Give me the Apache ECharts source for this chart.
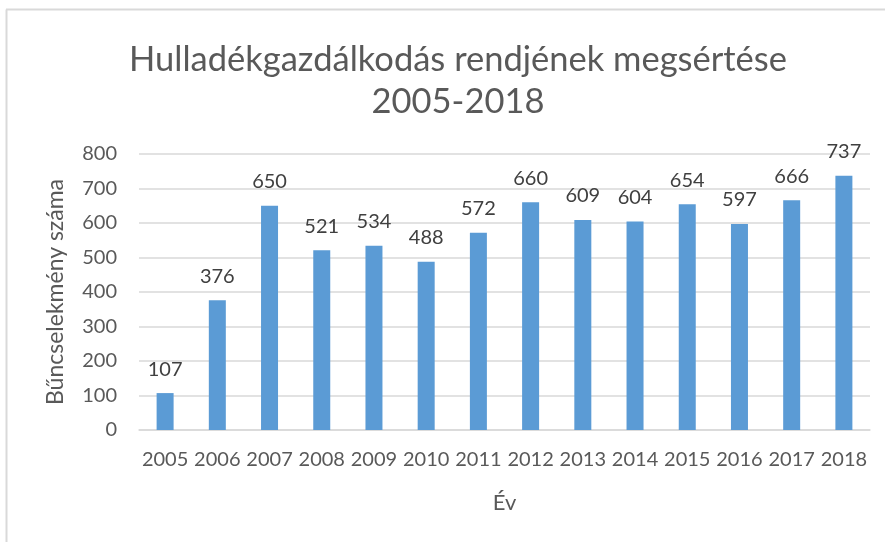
<!DOCTYPE html>
<html lang="hu">
<head>
	<meta charset="UTF-8">
	<title>Hulladékgazdálkodás rendjének megsértése 2005-2018</title>
	<script src="https://cdn.jsdelivr.net/npm/echarts@6/dist/echarts.min.js"></script>
	<style>
		html, body { margin: 0; padding: 0; background: #fff; }
	</style>
</head>
<body>
	<div id="main" style="width: 885px;height:542px;"></div>
	<script type="text/javascript">
		// évek és bűncselekmények száma
		var years = ['2005', '2006', '2007', '2008', '2009', '2010', '2011',
			'2012', '2013', '2014', '2015', '2016', '2017', '2018'];
		var counts = [107, 376, 650, 521, 534, 488, 572, 660, 609, 604, 654, 597, 666, 737];

		var font = 'Lato, "Open Sans", sans-serif';
		var txt = '#595959';

		var myChart = echarts.init(document.getElementById('main'));

		var option = {
			animation: false,
			backgroundColor: '#fff',
			title: {
				text: 'Hulladékgazdálkodás rendjének megsértése\n2005-2018',
				left: 453,
				textAlign: 'center',
				top: 34,
				textStyle: {
					fontFamily: font,
					fontWeight: 'normal',
					fontSize: 34.5,
					lineHeight: 42,
					color: txt
				}
			},
			// keret bal és felső vonala
			graphic: [
				{ type: 'line', shape: { x1: 6.5, y1: 9.5, x2: 6.5, y2: 542 }, style: { stroke: '#d9d9d9', lineWidth: 2 } },
				{ type: 'line', shape: { x1: 6, y1: 9.5, x2: 885, y2: 9.5 }, style: { stroke: '#d9d9d9', lineWidth: 2 } }
			],
			grid: {
				left: 139,
				right: 15,
				top: 154,
				bottom: 112,
				containLabel: false
			},
			xAxis: {
				type: 'category',
				data: years,
				name: 'Év',
				nameLocation: 'middle',
				nameGap: 62,
				nameTextStyle: { fontFamily: font, fontSize: 22, color: txt },
				axisLine: { lineStyle: { color: '#d9d9d9', width: 1.5 } },
				axisTick: { show: false },
				axisLabel: { fontFamily: font, fontSize: 20, color: txt, margin: 20, interval: 0 }
			},
			yAxis: {
				type: 'value',
				min: 0,
				max: 800,
				interval: 100,
				name: 'Bűncselekmény száma',
				nameLocation: 'middle',
				nameGap: 72,
				nameTextStyle: { fontFamily: font, fontSize: 23, color: txt },
				axisLine: { show: false },
				axisTick: { show: false },
				axisLabel: { fontFamily: font, fontSize: 20, color: txt, margin: 22 },
				splitLine: { lineStyle: { color: '#d9d9d9', width: 1.5 } }
			},
			series: [
				{
					type: 'bar',
					data: counts,
					barWidth: 17,
					itemStyle: { color: '#5b9bd5' },
					label: {
						show: true,
						position: 'top',
						distance: 14,
						fontFamily: font,
						fontSize: 20,
						color: '#404040'
					}
				}
			]
		};
		myChart.setOption(option);
	</script>
</body>
</html>
